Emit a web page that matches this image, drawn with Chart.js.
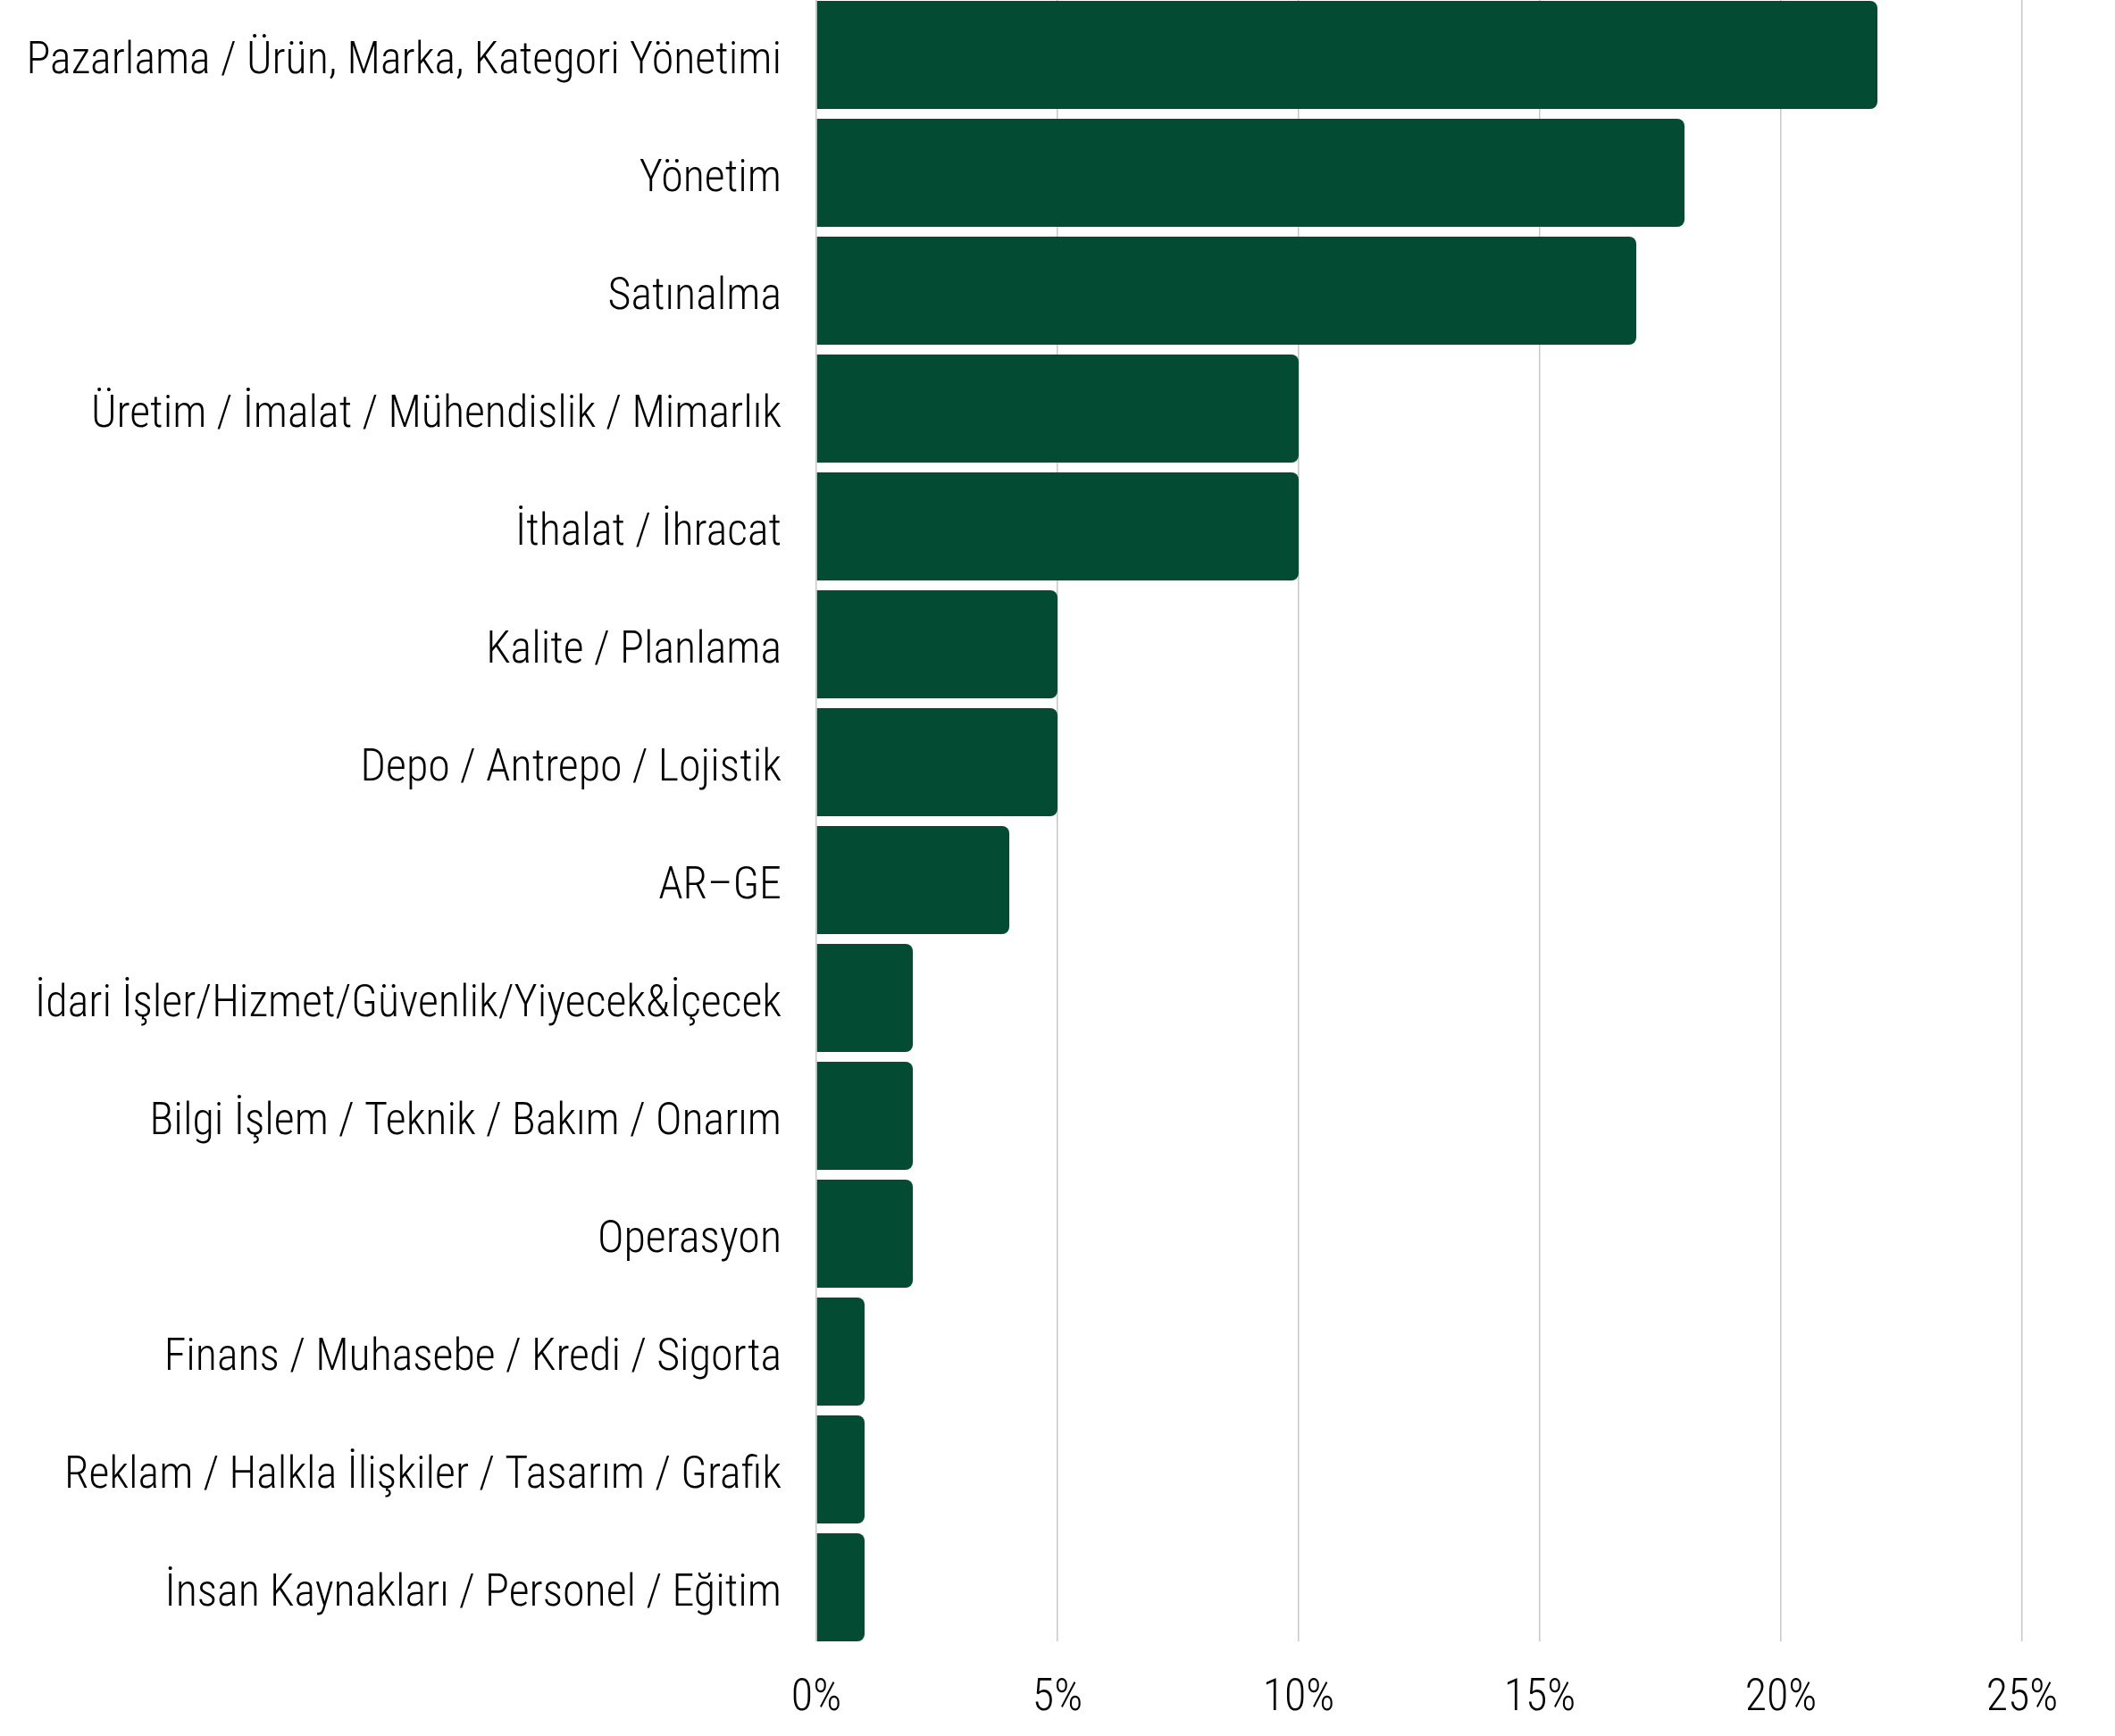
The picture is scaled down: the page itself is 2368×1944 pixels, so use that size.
<!DOCTYPE html>
<html>
<head>
<meta charset="utf-8">
<script src="https://cdn.jsdelivr.net/npm/chart.js@4/dist/chart.umd.min.js"></script>
<style>
  html, body { margin: 0; padding: 0; background: #ffffff; }
  #wrap { width: 2368px; height: 1944px; }
</style>
</head>
<body>
<div id="wrap"><canvas id="c" width="2368" height="1944"></canvas></div>
<script>
const categories = [
  "Pazarlama / Ürün, Marka, Kategori Yönetimi",
  "Yönetim",
  "Satınalma",
  "Üretim / İmalat / Mühendislik / Mimarlık",
  "İthalat / İhracat",
  "Kalite / Planlama",
  "Depo / Antrepo / Lojistik",
  "AR–GE",
  "İdari İşler/Hizmet/Güvenlik/Yiyecek&İçecek",
  "Bilgi İşlem / Teknik / Bakım / Onarım",
  "Operasyon",
  "Finans / Muhasebe / Kredi / Sigorta",
  "Reklam / Halkla İlişkiler / Tasarım / Grafik",
  "İnsan Kaynakları / Personel / Eğitim"
];
const shares = [22, 18, 17, 10, 10, 5, 5, 4, 2, 2, 2, 1, 1, 1];
const xTicks = [0, 5, 10, 15, 20, 25];

const FONT = "'Roboto Condensed', 'Liberation Sans Narrow', sans-serif";

// Let the category band run a few pixels past the plot area so the first bar
// touches the top edge and the last bar ends on the grid's bottom, as in the original.
const bandPlugin = {
  id: 'band',
  afterLayout(chart) {
    const y = chart.scales.y;
    y.top = chart.chartArea.top - 4.5;
    y.bottom = chart.chartArea.bottom - 0.5;
    y.configure();
    chart.chartArea.bottom = chart.chartArea.bottom - 6;
  }
};

new Chart(document.getElementById('c'), {
  type: 'bar',
  data: {
    labels: categories,
    datasets: [{
      data: shares,
      backgroundColor: '#034c33',
      borderWidth: 0,
      borderRadius: 8,
      borderSkipped: 'start',
      barPercentage: 0.917,
      categoryPercentage: 1
    }]
  },
  plugins: [bandPlugin],
  options: {
    indexAxis: 'y',
    responsive: false,
    animation: false,
    devicePixelRatio: 1,
    layout: { padding: { top: 0, right: 104, left: 0, bottom: 0 } },
    plugins: { legend: { display: false }, tooltip: { enabled: false } },
    scales: {
      x: {
        min: 0,
        max: 25,
        afterBuildTicks: (scale) => { scale.ticks = xTicks.map(v => ({ value: v })); },
        afterFit: (scale) => { scale.height = 100; scale.paddingLeft = 0; scale.paddingRight = 0; },
        grid: { display: true, color: '#c8c8c8', lineWidth: 1.5, drawTicks: false },
        border: { display: false },
        ticks: {
          padding: 28,
          color: '#000000',
          font: { family: FONT, size: 50, weight: '300' },
          callback: (v) => v + '%'
        }
      },
      y: {
        afterFit: (scale) => { scale.width = 914; scale.paddingTop = 0; scale.paddingBottom = 0; },
        grid: { display: false, drawTicks: false },
        border: { display: false },
        ticks: {
          padding: 39,
          labelOffset: 8,
          color: '#000000',
          font: { family: FONT, size: 50, weight: '300' },
          autoSkip: false
        }
      }
    }
  }
});
</script>
</body>
</html>
